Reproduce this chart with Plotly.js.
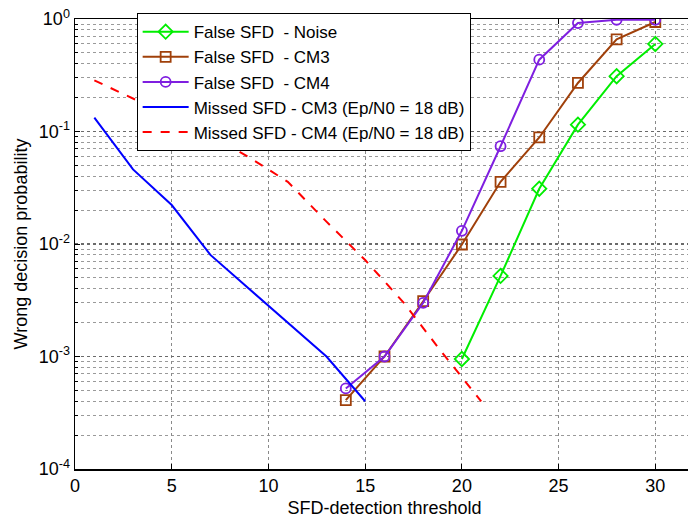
<!DOCTYPE html>
<html>
<head>
<meta charset="utf-8">
<script src="https://cdn.plot.ly/plotly-3.0.1.min.js"></script>
<style>
html, body { margin: 0; padding: 0; overflow: hidden; background: #fff; }
#chart { width: 700px; height: 522px; }
</style>
</head>
<body>
<div id="chart"></div>
<script>
// ---- data ----
const thresholdsFalse = [14, 16, 18, 20, 22, 24, 26, 28, 30];
const noiseX = [20, 22, 24, 26, 28, 30];
const falseNoise = [0.00095, 0.0052, 0.031, 0.115, 0.31, 0.60];
const falseCM3 = [0.00041, 0.0010, 0.0031, 0.0099, 0.0357, 0.0885, 0.27, 0.66, 0.94];
const falseCM4 = [0.00052, 0.0010, 0.0030, 0.0131, 0.074, 0.435, 0.92, 0.985, 0.985];
const missedCM3X = [1, 3, 5, 7, 13, 15];
const missedCM3 = [0.133, 0.046, 0.0222, 0.0080, 0.0010, 0.00040];
const missedCM4X = [1, 3, 5, 7, 9, 11, 13, 15, 17, 19, 21];
const missedCM4 = [0.285, 0.196, 0.135, 0.093, 0.059, 0.0357, 0.0158, 0.0072, 0.0030, 0.00107, 0.00040];
const seriesNames = [
  'False SFD\u00a0\u00a0- Noise',
  'False SFD\u00a0\u00a0- CM3',
  'False SFD\u00a0\u00a0- CM4',
  'Missed SFD - CM3 (Ep/N0 = 18 dB)',
  'Missed SFD - CM4 (Ep/N0 = 18 dB)'
];
const xTicks = [0, 5, 10, 15, 20, 25, 30];
const yTickVals = [1e-4, 1e-3, 1e-2, 1e-1, 1];
const yTickText = ['10<sup>-4</sup>', '10<sup>-3</sup>', '10<sup>-2</sup>', '10<sup>-1</sup>', '10<sup>0</sup>'];

const green = '#00ee00', brown = '#a0400a', purple = '#7f1fe0', blue = '#0000ff', red = '#ff0000';

const traces = [
  { x: noiseX, y: falseNoise, name: seriesNames[0], mode: 'lines+markers',
    line: { color: green, width: 2 },
    marker: { symbol: 'diamond-open', size: 11, color: green, line: { width: 1.8, color: green } } },
  { x: thresholdsFalse, y: falseCM3, name: seriesNames[1], mode: 'lines+markers',
    line: { color: brown, width: 2 },
    marker: { symbol: 'square-open', size: 10, color: brown, line: { width: 1.8, color: brown } } },
  { x: thresholdsFalse, y: falseCM4, name: seriesNames[2], mode: 'lines+markers',
    line: { color: purple, width: 2 },
    marker: { symbol: 'circle-open', size: 10, color: purple, line: { width: 1.8, color: purple } } },
  { x: missedCM3X, y: missedCM3, name: seriesNames[3], mode: 'lines',
    line: { color: blue, width: 2 } },
  { x: missedCM4X, y: missedCM4, name: seriesNames[4], mode: 'lines',
    line: { color: red, width: 2, dash: 'dash' } }
];

const font = { family: 'Liberation Sans, Arial, sans-serif', size: 18, color: '#000' };

const layout = {
  width: 700, height: 522,
  margin: { l: 75, r: 5.5, t: 18.6, b: 52.6 },
  paper_bgcolor: '#fff', plot_bgcolor: '#fff',
  font: font,
  showlegend: true,
  legend: {
    x: 0.0996, y: 1.013, xanchor: 'left', yanchor: 'top',
    bgcolor: '#fff', bordercolor: '#000', borderwidth: 1,
    font: { family: font.family, size: 17, color: '#000' },
    itemwidth: 46,
    tracegroupgap: 0
  },
  xaxis: {
    range: [0, 32], tickvals: xTicks, ticktext: xTicks.map(String),
    showline: true, linecolor: '#000', linewidth: 1.5, mirror: 'ticks',
    ticks: 'inside', ticklen: 5, tickcolor: '#000',
    showgrid: true, gridcolor: '#8a8a8a', griddash: 'dot', gridwidth: 1,
    zeroline: false,
    title: { text: 'SFD-detection threshold', font: font, standoff: 6 }
  },
  yaxis: {
    type: 'log', range: [-4, 0],
    tickvals: yTickVals, ticktext: yTickText,
    showline: true, linecolor: '#000', linewidth: 1.5, mirror: 'ticks',
    ticks: 'inside', ticklen: 5, tickcolor: '#000',
    showgrid: true, gridcolor: '#6a6a6a', griddash: 'dot', gridwidth: 1.5,
    zeroline: false,
    minor: { dtick: 'D1', showgrid: true, gridcolor: '#9a9a9a', griddash: 'dot', gridwidth: 1,
             ticks: 'inside', ticklen: 3, tickcolor: '#000' },
    title: { text: 'Wrong decision probability', font: font, standoff: 6 }
  }
};

Plotly.newPlot('chart', traces, layout, { displayModeBar: false, staticPlot: true });
</script>
</body>
</html>
